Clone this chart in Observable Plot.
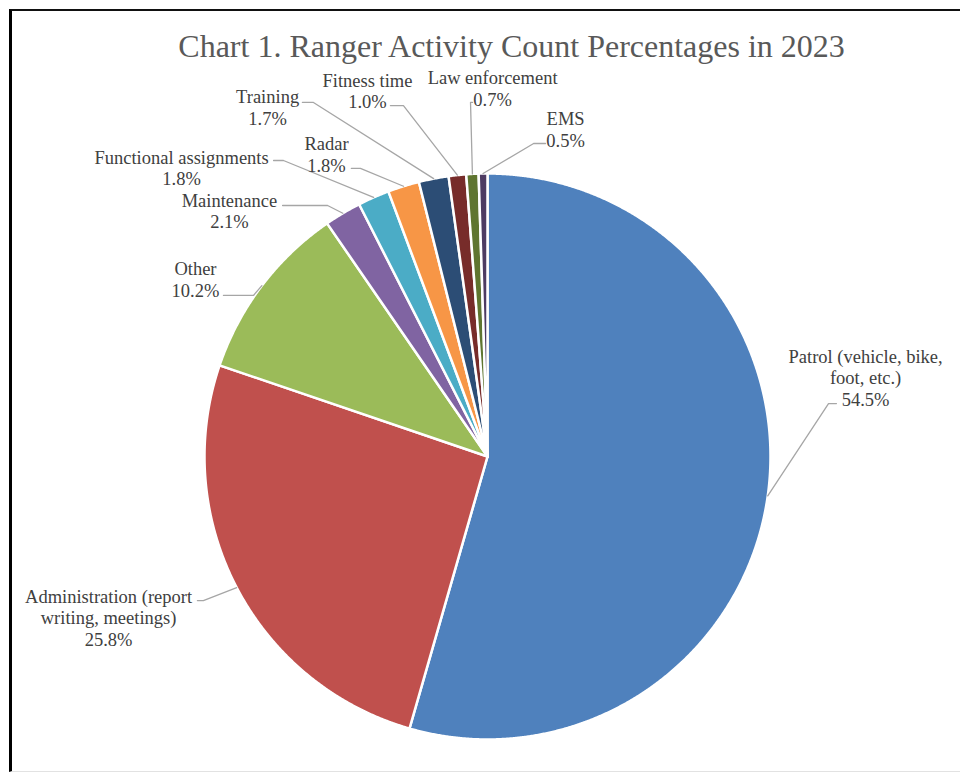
<!DOCTYPE html>
<html><head><meta charset="utf-8">
<script src="https://cdn.jsdelivr.net/npm/d3@7"></script>
<script src="https://cdn.jsdelivr.net/npm/@observablehq/plot@0.6"></script>
<style>
html,body{margin:0;padding:0;background:#fff;}
#wrap{position:relative;width:960px;height:773px;overflow:hidden;background:#fff;}
#chart{position:absolute;left:0;top:0;}
#frame{position:absolute;left:9px;top:9px;width:1000px;height:763px;border-left:3px solid #000;border-top:2px solid #111;border-bottom:1px solid #e2e2e2;box-sizing:border-box;pointer-events:none;}
</style></head><body>
<div id="wrap"><div id="chart"></div><div id="frame"></div></div>
<script>
const title = "Chart 1. Ranger Activity Count Percentages in 2023";
const categories = ["Patrol (vehicle, bike, foot, etc.)", "Administration (report writing, meetings)", "Other", "Maintenance", "Functional assignments", "Radar", "Training", "Fitness time", "Law enforcement", "EMS"];
const labelNames = ["Patrol (vehicle, bike,\nfoot, etc.)", "Administration (report\nwriting, meetings)", "Other", "Maintenance", "Functional assignments", "Radar", "Training", "Fitness time", "Law enforcement", "EMS"];
const values = [54.5, 25.8, 10.2, 2.1, 1.8, 1.8, 1.7, 1.0, 0.7, 0.5];
const colors = ["#4F81BD", "#C0504D", "#9BBB59", "#8064A2", "#4BACC6", "#F79646", "#2C4D75", "#772C2A", "#5F7530", "#4D3B62"];
// label layout in units of pie radius (text centre, leader elbow, leader end x)
const labelX  = [1.336, -1.339, -1.032, -0.912, -1.081, -0.569, -0.777, -0.424, 0.018, 0.276];
const labelY  = [0.279, -0.569, 0.627, 0.869, 1.021, 1.069, 1.235, 1.293, 1.302, 1.157];
const elbowX  = [1.205, -1.004, -0.827, -0.565, -0.721, -0.449, -0.615, -0.297, -0.060, 0.163];
const elbowY  = [0.187, -0.509, 0.569, 0.887, 1.046, 1.018, 1.251, 1.240, 1.251, 1.106];
const endX    = [1.233, -1.025, -0.933, -0.724, -0.756, -0.481, -0.654, -0.343, -0.053, 0.205];

const font = "'Liberation Serif','Times New Roman',serif";
const arcs = d3.pie().sort(null).value(d => d)(values);

const slicePts = [];
arcs.forEach((a, i) => {
  const c = categories[i];
  slicePts.push({category: c, x: 0, y: 0});
  const n = Math.max(2, Math.ceil((a.endAngle - a.startAngle) / 0.004));
  for (let k = 0; k <= n; k++) {
    const t = a.startAngle + (a.endAngle - a.startAngle) * k / n;
    slicePts.push({category: c, x: Math.sin(t), y: Math.cos(t)});
  }
  slicePts.push({category: c, x: 0, y: 0});
});

const leaderPts = [];
arcs.forEach((a, i) => {
  const c = categories[i];
  const m = (a.startAngle + a.endAngle) / 2;
  leaderPts.push({category: c, x: Math.sin(m), y: Math.cos(m)});
  leaderPts.push({category: c, x: elbowX[i], y: elbowY[i]});
  leaderPts.push({category: c, x: endX[i], y: elbowY[i]});
});

const labelRows = categories.map((c, i) => ({
  category: c, x: labelX[i], y: labelY[i],
  text: labelNames[i] + "\n" + values[i].toFixed(1) + "%"
}));

const plot = Plot.plot({
  width: 960, height: 773, margin: 0,
  style: {fontFamily: font, background: "transparent"},
  x: {domain: [-1, 1], range: [204, 770], axis: null},
  y: {domain: [-1, 1], range: [739, 173], axis: null},
  color: {domain: categories, range: colors},
  marks: [
    Plot.line(slicePts, {x: "x", y: "y", z: "category", fill: "category", stroke: "white", strokeWidth: 2.5, strokeLinejoin: "round"}),
    Plot.line(leaderPts, {x: "x", y: "y", z: "category", stroke: "#a6a6a6", strokeWidth: 1.3}),
    Plot.text(labelRows, {x: "x", y: "y", text: "text", fontSize: 18.5, lineHeight: 1.17, fill: "#404040", textAnchor: "middle", lineAnchor: "middle", fontFamily: font}),
    Plot.text([title], {x: [0.085], y: [1.449], text: d => d, fontSize: 32, fill: "#595959", textAnchor: "middle", lineAnchor: "middle", fontFamily: font})
  ]
});
document.getElementById("chart").appendChild(plot);
</script>
</body></html>
